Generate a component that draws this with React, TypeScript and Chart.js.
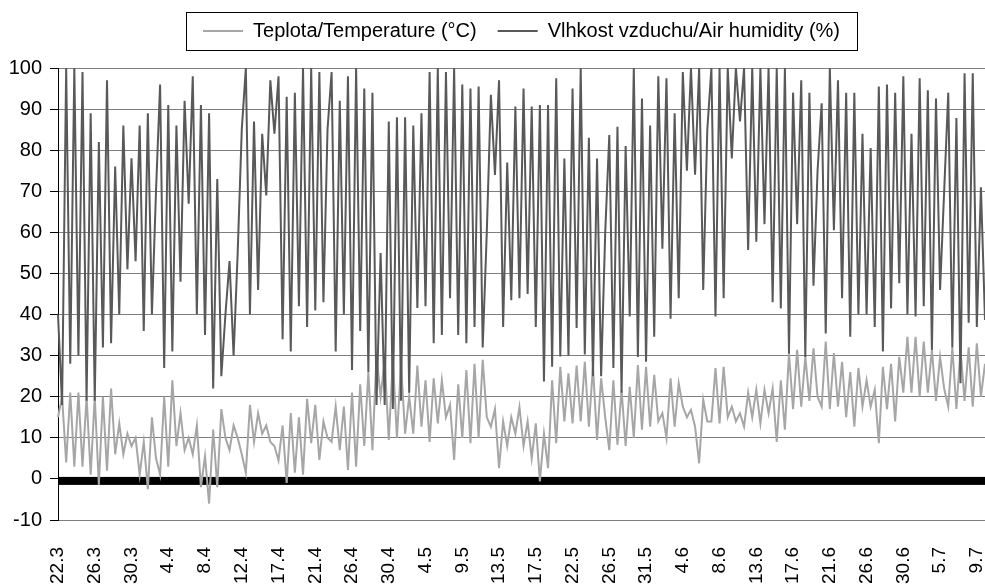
import React, { useEffect, useRef } from 'react';
import { Chart, registerables } from 'chart.js';

Chart.register(...registerables);

// Tick dates on the category axis (one every `pointsPerTick` readings)
const dateTicks = ['22.3', '26.3', '30.3', '4.4', '8.4', '12.4', '17.4', '21.4', '26.4', '30.4', '4.5', '9.5', '13.5', '17.5', '22.5', '26.5', '31.5', '4.6', '8.6', '13.6', '17.6', '21.6', '26.6', '30.6', '5.7', '9.7'];
const pointsPerTick = 9;

// Teplota/Temperature (°C)
const temperature = [
  15, 20, 4, 21, 3, 21, 3, 20, 1, 20, -1.5, 20, 2, 22, 6, 13.5, 6, 11, 8, 10,
  1, 9, -2.5, 15, 5, 1, 20, 3, 24, 8, 16, 7, 10, 6, 13, -2, 5.5, -6, 12, -2,
  17, 10, 7, 13, 10, 6, 1.5, 18, 9, 16, 11, 13, 9, 8, 4.5, 13, -1, 16, 1.5, 15,
  1, 19.5, 8.7, 18, 4.6, 14, 10, 9, 17.6, 7, 17.6, 2.2, 21, 3, 23, 8, 26, 7, 30, 20,
  29, 9.5, 29, 10, 28, 11, 20, 11, 27.6, 12.7, 24, 9, 24.5, 13.5, 24, 15, 18, 4.6, 23, 10,
  26.5, 8.7, 28, 10, 29, 15, 12.7, 17, 2.6, 14, 8, 15, 11, 17.5, 8, 14, 5, 13.5, -0.6, 11,
  2.6, 24, 8.7, 27.3, 14, 25.7, 13.5, 27.6, 14, 28.5, 12.7, 27.3, 9.5, 24.5, 15, 7, 24, 8.3, 21.7, 8,
  22.4, 10, 27.7, 12, 27.3, 12.7, 25.3, 14, 16, 10, 24.5, 12.7, 23.3, 17.6, 15, 16.8, 12.7, 3.8, 19.3, 14,
  14, 27, 13.5, 27.3, 15, 17.6, 14, 16, 12.7, 21, 15, 21.7, 13.5, 21.7, 16, 22, 9, 24, 12, 30.6,
  17, 31.4, 17.6, 29.8, 19, 31.8, 20, 17.6, 33.4, 17, 30.6, 17.6, 28.5, 15, 26, 12.7, 27, 17.6, 24, 17.6,
  21.7, 8.7, 27.3, 17, 28, 14, 29.7, 21, 34.6, 21, 34.6, 20, 33.4, 21, 31.4, 19, 29.7, 22, 17.6, 32,
  17, 31.4, 19, 32, 17.6, 33, 20, 28,
];

// Vlhkost vzduchu/Air humidity (%)
const humidity = [
  40, 18, 100, 28, 100, 30, 99, 19, 89, 19, 82, 32, 97, 33, 76, 40, 86, 51, 78, 53,
  86, 36, 89, 40, 70, 96, 27, 91, 31, 86, 48, 92, 67, 98, 40, 91, 35, 89, 22, 73,
  25, 40, 53, 30, 55, 85, 100, 40, 87, 46, 84, 69, 97, 84, 98, 34, 93, 31, 94, 42,
  100, 37, 100, 41, 99, 43, 85, 99, 31, 92, 40, 98, 26.5, 100, 36, 95, 26, 94, 18, 55,
  18, 87, 17, 88, 19, 88, 21, 86, 41.6, 89, 42, 99, 33, 100, 35, 99, 44, 100, 35, 96,
  33, 95, 37, 95.5, 32, 60, 93.5, 74, 97, 37, 77, 43.5, 90.6, 44, 95, 45, 90.6, 37, 91, 23.7,
  91, 27.3, 97.5, 29.8, 78, 30, 95, 36.7, 100, 30.3, 83, 25, 78, 25, 60, 83.7, 27, 85.7, 21, 81,
  39.5, 100, 29.7, 92.6, 28.5, 86, 34.6, 98, 56, 97.5, 39, 89, 44, 99, 75, 100, 74, 100, 46, 85,
  100, 39.5, 100, 44, 100, 78, 100, 87, 100, 55.7, 100, 57.7, 100, 62, 100, 43, 100, 41.5, 100, 30.5,
  94, 62, 97, 29.7, 94, 47, 75, 91.4, 35.4, 100, 60.5, 97, 44, 94, 34.6, 94, 40, 84, 40, 80.5,
  37, 95.5, 31, 96, 41.5, 94, 47.6, 98, 40, 84, 39.5, 97.5, 42, 94.6, 31.4, 92.6, 46, 70, 94, 32,
  87.8, 23.3, 98.7, 38, 98.7, 37, 71, 38.7,
];

const categories = humidity.map((_, i) =>
  i % pointsPerTick === 0 ? dateTicks[i / pointsPerTick] ?? '' : ''
);

const FONT_FAMILY = "'Liberation Sans', Arial, Helvetica, sans-serif";

const zeroLinePlugin = {
  id: 'zeroLine',
  beforeDatasetsDraw(chart: any) {
    const { ctx, chartArea, scales } = chart;
    const y0 = scales.y.getPixelForValue(0);
    ctx.save();
    ctx.fillStyle = '#000000';
    ctx.fillRect(chartArea.left, y0 - 2, chartArea.right - chartArea.left, 8);
    ctx.restore();
  },
};

const legendBoxPlugin = {
  id: 'legendBox',
  afterDraw(chart: any) {
    const lg = chart.legend;
    const hb = lg && lg.legendHitBoxes;
    if (!hb || !hb.length) return;
    const first = hb[0];
    const last = hb[hb.length - 1];
    const l = Math.round(first.left - 17) + 0.5;
    const r = Math.round(last.left + last.width + 17) + 0.5;
    const t = Math.round(first.top - 9) + 0.5;
    const b = Math.round(first.top + first.height + 9) + 0.5;
    const ctx = chart.ctx;
    ctx.save();
    ctx.strokeStyle = '#000000';
    ctx.lineWidth = 1;
    ctx.strokeRect(l, t, r - l, b - t);
    ctx.restore();
  },
};

export default function App() {
  const canvasRef = useRef<HTMLCanvasElement | null>(null);

  useEffect(() => {
    if (!canvasRef.current) return;
    const chart = new Chart(canvasRef.current, {
      type: 'line',
      data: {
        labels: categories,
        datasets: [
          {
            label: 'Teplota/Temperature (°C)',
            data: temperature,
            borderColor: '#a6a6a6',
            backgroundColor: '#a6a6a6',
            borderWidth: 2,
            pointRadius: 0,
            tension: 0,
            order: 1,
          },
          {
            label: 'Vlhkost vzduchu/Air humidity (%)',
            data: humidity,
            borderColor: '#595959',
            backgroundColor: '#595959',
            borderWidth: 2,
            pointRadius: 0,
            tension: 0,
            order: 0,
          },
        ],
      },
      options: {
        animation: false,
        responsive: true,
        maintainAspectRatio: false,
        layout: { padding: 0 },
        plugins: {
          legend: {
            position: 'top',
            fullSize: false,
            labels: {
              usePointStyle: true,
              pointStyle: 'line',
              pointStyleWidth: 40,
              padding: 21,
              color: '#000000',
              font: { family: FONT_FAMILY, size: 20 },
              sort: (a: any, b: any) => a.datasetIndex - b.datasetIndex,
            },
          },
          tooltip: { enabled: false },
        },
        scales: {
          xTop: {
            type: 'category',
            position: 'top',
            grid: { display: false, drawTicks: false },
            border: { display: false },
            ticks: { display: false },
            afterFit: (s: any) => {
              s.height = 17;
              s.paddingLeft = 0;
              s.paddingRight = 0;
            },
          },
          x: {
            type: 'category',
            position: 'bottom',
            grid: { display: false, drawTicks: false },
            border: { display: false },
            ticks: {
              autoSkip: false,
              maxRotation: 90,
              minRotation: 90,
              padding: 27,
              color: '#000000',
              font: { family: FONT_FAMILY, size: 19 },
            },
            afterFit: (s: any) => {
              s.height = 68;
              s.paddingLeft = 0;
              s.paddingRight = 0;
            },
          },
          y: {
            min: -10,
            max: 100,
            ticks: {
              stepSize: 10,
              padding: 8,
              color: '#000000',
              font: { family: FONT_FAMILY, size: 20 },
            },
            grid: { color: '#7f7f7f', tickColor: '#000000', tickLength: 8, lineWidth: 1 },
            border: { color: '#000000', width: 1 },
            afterFit: (s: any) => {
              s.width = 58;
            },
          },
        },
      },
      plugins: [zeroLinePlugin, legendBoxPlugin],
    });
    return () => chart.destroy();
  }, []);

  return (
    <div style={{ position: 'absolute', left: 0, top: 0, width: 985, height: 588, background: '#ffffff' }}>
      <canvas ref={canvasRef} />
    </div>
  );
}
